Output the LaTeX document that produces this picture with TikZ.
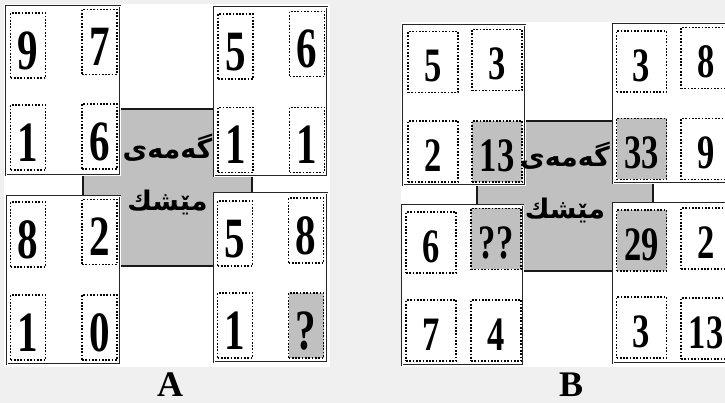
\documentclass[tikz,border=0pt]{standalone}
\usepackage{fontspec}
\setmainfont{Liberation Serif}
\newfontfamily\numfont[FakeStretch=0.72]{Liberation Serif}
\newfontfamily\kurdfont[Script=Arabic]{DejaVu Sans}
\TeXXeTstate=1
\definecolor{bggray}{RGB}{240,240,240}
\definecolor{cellgray}{RGB}{192,192,192}

\begin{document}
\begin{tikzpicture}[x=1pt, y=-1pt,
  box/.style={draw=black!85, line width=1.1pt, double=white, double distance=0.6pt, fill=white},
  centre/.style={draw=black!90, line width=1.3pt, fill=cellgray},
  cell/.style={draw, line width=1.7pt, dash pattern=on 1.7pt off 1.6pt, fill=white, inner sep=0pt},
  cellA/.style={cell, minimum width=35pt, minimum height=65pt, text height=48pt,
    font=\numfont\bfseries\fontsize{57}{57}\selectfont},
  cellB/.style={cell, minimum width=50pt, minimum height=61pt, text height=40pt,
    font=\numfont\bfseries\fontsize{48}{48}\selectfont},
  kurd/.style={align=center, inner sep=0pt, font=\kurdfont\bfseries\fontsize{27}{52}\selectfont},
  lbl/.style={inner sep=0pt, font=\bfseries\fontsize{36}{36}\selectfont}]
  \useasboundingbox (0,0) rectangle (725,403);
  % Fundo e paineis
  \fill[bggray] (0,0) rectangle (725,403);
  \fill[white] (4,4) rectangle (330,367);
  \fill[white] (401,22) rectangle (725,367);

  % Painel A
  \draw[centre] (83,109) rectangle (252,266);
  \draw[box] (6,6) rectangle (120,175);
  \draw[box] (214,7) rectangle (327,176);
  \draw[box] (7,196) rectangle (120,364);
  \draw[box] (214,193) rectangle (327,362);
  \node[cellA] (A11) at (28,45.5) {9};
  \node[cellA] (A12) at (99.5,42) {7};
  \node[cellA] (A13) at (28,137.5) {1};
  \node[cellA] (A14) at (99.5,136.5) {6};
  \node[cellA] (A21) at (235.5,46.5) {5};
  \node[cellA] (A22) at (307,44) {6};
  \node[cellA] (A23) at (235.5,140) {1};
  \node[cellA] (A24) at (307,140) {1};
  \node[cellA] (A31) at (28,234.5) {8};
  \node[cellA] (A32) at (99.5,232) {2};
  \node[cellA] (A33) at (28,327.5) {1};
  \node[cellA] (A34) at (99.5,327.5) {0};
  \node[cellA] (A41) at (235,233.5) {5};
  \node[cellA] (A42) at (306,230.5) {8};
  \node[cellA] (A43) at (235,325.5) {1};
  \node[cellA, fill=cellgray] (A44) at (306,325.5) {?};
  \node[kurd] (A-title) at (167.5,174) {\beginR گەمەی\endR\\\beginR مێشك\endR};
  \node[lbl] (A-lbl) at (170,385) {A};

  % Painel B (cortado na borda direita)
  \begin{scope}
    \clip (0,0) rectangle (725,403);
    \draw[centre] (477,121) rectangle (653,271);
    \draw[box] (403,25) rectangle (525,185);
    \draw[box] (613,24) rectangle (735,183);
    \draw[box] (402,205) rectangle (523,365);
    \draw[box] (613,203) rectangle (735,363);
    \node[cellB] (B11) at (433,62) {5};
    \node[cellB] (B12) at (497,60) {3};
    \node[cellB] (B13) at (433,151.5) {2};
    \node[cellB, fill=cellgray] (B14) at (497,151.5) {13};
    \node[cellB] (B21) at (641.5,61.5) {3};
    \node[cellB] (B22) at (706,58) {8};
    \node[cellB, fill=cellgray] (B23) at (641.5,149) {33};
    \node[cellB] (B24) at (706,149) {9};
    \node[cellB] (B31) at (431,242.5) {6};
    \node[cellB, fill=cellgray] (B32) at (496,239) {??};
    \node[cellB] (B33) at (431,330.5) {7};
    \node[cellB] (B34) at (496,330.5) {4};
    \node[cellB, fill=cellgray] (B41) at (641.5,240.5) {29};
    \node[cellB] (B42) at (706,238.5) {2};
    \node[cellB] (B43) at (641.5,327.5) {3};
    \node[cellB] (B44) at (706,328.5) {13};
    \node[kurd] (B-title) at (565,182.5) {\beginR گەمەی\endR\\\beginR مێشك\endR};
  \end{scope}
  \node[lbl] (B-lbl) at (571,385) {B};
\end{tikzpicture}
\end{document}
